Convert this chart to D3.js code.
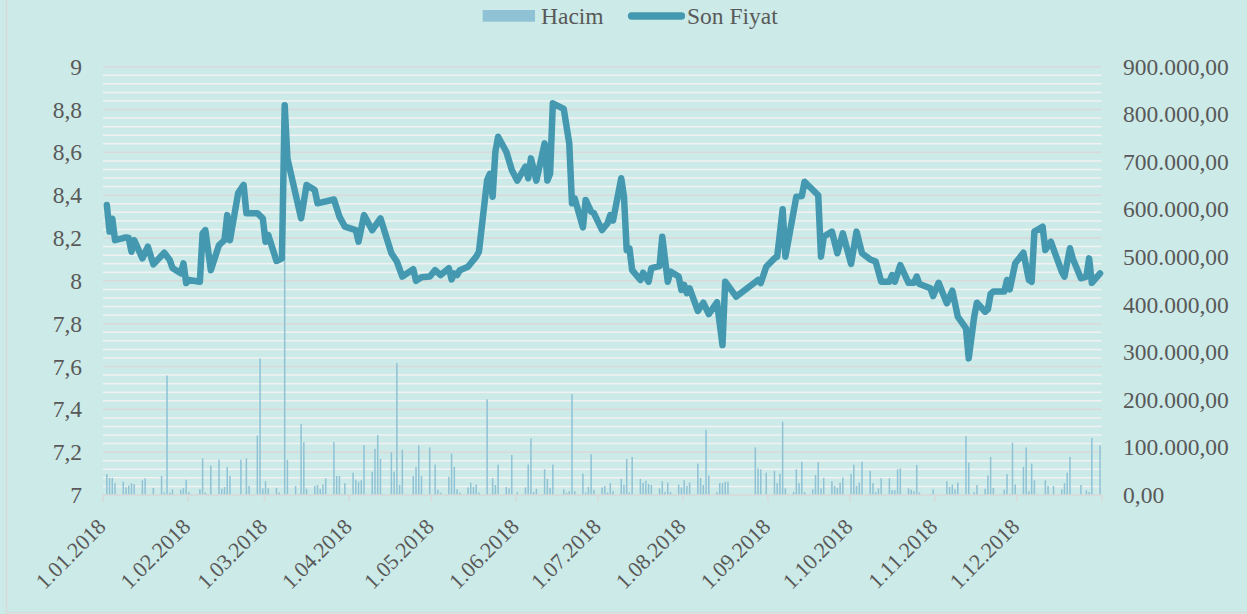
<!DOCTYPE html>
<html>
<head>
<meta charset="utf-8">
<script src="https://cdn.jsdelivr.net/npm/d3@7"></script>
<style>
  html, body { margin: 0; padding: 0; background: #cceae7; }
  svg { display: block; }
  text { font-family: 'Liberation Serif', 'Times New Roman', 'DejaVu Serif', serif; }
</style>
</head>
<body>
<div id="chart"></div>
<script>
// Son Fiyat: days counted from 1.01.2018, closing prices
const priceDays = [1, 2, 3, 4, 7, 8, 9, 10, 11, 14, 16, 18, 22, 24, 25, 28, 29, 30, 31, 35, 36, 37, 39, 42, 44, 45, 46, 49, 51, 52, 56, 58, 59, 60, 63, 65, 66, 67, 72, 74, 77, 78, 84, 86, 88, 92, 93, 95, 98, 101, 105, 107, 109, 113, 114, 116, 119, 121, 123, 126, 127, 128, 129, 130, 133, 136, 137, 140, 141, 142, 143, 144, 147, 149, 151, 154, 155, 156, 158, 161, 162, 163, 164, 168, 170, 171, 172, 175, 176, 178, 179, 182, 184, 185, 186, 189, 190, 191, 192, 193, 196, 197, 199, 200, 203, 204, 206, 207, 210, 211, 212, 213, 214, 217, 219, 221, 224, 226, 227, 231, 239, 240, 242, 245, 246, 248, 249, 253, 255, 256, 261, 262, 263, 266, 268, 270, 273, 275, 277, 280, 282, 284, 287, 288, 289, 291, 294, 296, 297, 298, 302, 303, 305, 308, 310, 311, 312, 315, 316, 318, 319, 322, 323, 324, 325, 329, 330, 331, 333, 336, 338, 339, 340, 343, 344, 346, 350, 351, 353, 354, 357, 359, 360, 361, 364];
const priceValues = [8.354, 8.23, 8.29, 8.19, 8.20, 8.203, 8.20, 8.136, 8.19, 8.105, 8.16, 8.077, 8.131, 8.097, 8.06, 8.035, 8.082, 7.99, 8.004, 7.996, 8.222, 8.237, 8.05, 8.167, 8.19, 8.307, 8.19, 8.41, 8.448, 8.316, 8.316, 8.292, 8.183, 8.214, 8.093, 8.105, 8.82, 8.572, 8.292, 8.448, 8.424, 8.362, 8.38, 8.30, 8.253, 8.237, 8.183, 8.307, 8.237, 8.292, 8.129, 8.09, 8.02, 8.054, 8.0, 8.017, 8.02, 8.05, 8.027, 8.059, 8.007, 8.035, 8.027, 8.05, 8.066, 8.113, 8.136, 8.471, 8.50, 8.393, 8.603, 8.673, 8.603, 8.518, 8.468, 8.533, 8.479, 8.572, 8.468, 8.642, 8.468, 8.50, 8.829, 8.803, 8.642, 8.362, 8.385, 8.25, 8.378, 8.323, 8.316, 8.237, 8.269, 8.307, 8.281, 8.479, 8.393, 8.144, 8.152, 8.05, 8.004, 8.038, 7.996, 8.059, 8.069, 8.206, 7.996, 8.043, 8.02, 7.957, 7.981, 7.942, 7.965, 7.86, 7.898, 7.845, 7.90, 7.70, 7.996, 7.926, 8.004, 7.99, 8.066, 8.105, 8.113, 8.334, 8.113, 8.393, 8.396, 8.463, 8.40, 8.113, 8.206, 8.23, 8.129, 8.222, 8.079, 8.23, 8.129, 8.10, 8.09, 7.996, 7.996, 8.027, 7.996, 8.074, 7.991, 7.991, 8.02, 7.985, 7.965, 7.929, 7.991, 7.895, 7.954, 7.895, 7.833, 7.778, 7.638, 7.833, 7.898, 7.856, 7.867, 7.939, 7.95, 7.95, 8.004, 7.96, 8.082, 8.131, 8.004, 7.996, 8.23, 8.253, 8.144, 8.183, 8.043, 8.02, 8.152, 8.105, 8.012, 8.02, 8.105, 7.991, 8.035];

// Hacim: days counted from 1.01.2018, daily volume
const volumeDays = [1, 2, 3, 4, 7, 8, 9, 10, 11, 14, 15, 18, 21, 22, 23, 24, 25, 28, 29, 30, 31, 32, 35, 36, 37, 38, 39, 42, 43, 44, 45, 46, 50, 52, 53, 56, 57, 58, 59, 60, 63, 64, 66, 67, 70, 71, 72, 73, 74, 77, 78, 79, 80, 81, 84, 85, 86, 87, 88, 91, 92, 93, 94, 95, 98, 99, 100, 101, 102, 105, 106, 107, 108, 109, 113, 114, 115, 116, 119, 121, 122, 123, 126, 127, 128, 129, 130, 133, 134, 135, 136, 137, 140, 141, 142, 143, 144, 147, 148, 149, 151, 154, 155, 156, 157, 158, 161, 162, 163, 164, 168, 169, 170, 171, 172, 175, 176, 177, 178, 179, 182, 183, 184, 185, 186, 189, 190, 191, 192, 193, 196, 197, 198, 199, 200, 203, 204, 205, 206, 207, 210, 211, 212, 213, 214, 217, 218, 219, 220, 221, 224, 225, 226, 227, 228, 238, 239, 240, 242, 245, 246, 247, 248, 249, 252, 253, 254, 255, 256, 259, 260, 261, 262, 263, 266, 267, 268, 269, 270, 273, 274, 275, 276, 277, 280, 281, 282, 283, 284, 287, 288, 289, 290, 291, 294, 295, 296, 297, 298, 302, 303, 308, 309, 310, 311, 312, 315, 316, 318, 319, 322, 323, 324, 325, 329, 330, 331, 332, 333, 336, 337, 338, 339, 340, 344, 345, 347, 350, 351, 352, 353, 357, 359, 360, 361, 364];
const volumeValues = [44000, 36000, 36000, 25000, 28000, 16000, 20000, 25000, 23000, 31000, 35000, 15000, 40000, 5000, 251000, 5000, 12000, 11000, 15000, 32000, 6000, 2000, 12000, 77000, 5000, 2000, 62000, 74000, 13000, 17000, 59000, 40000, 74000, 77000, 19000, 125000, 287000, 14000, 29000, 14000, 15000, 5000, 500000, 74000, 19000, 2000, 149000, 111000, 13000, 19000, 21000, 13000, 22000, 35000, 111000, 40000, 40000, 2000, 25000, 47000, 32000, 28000, 31000, 105000, 49000, 97000, 126000, 76000, 2000, 90000, 49000, 277000, 21000, 95000, 40000, 59000, 104000, 40000, 100000, 64000, 11000, 5000, 38000, 87000, 59000, 12000, 5000, 16000, 26000, 17000, 22000, 5000, 201000, 2000, 35000, 21000, 64000, 17000, 14000, 84000, 6000, 16000, 64000, 119000, 6000, 13000, 54000, 34000, 15000, 64000, 12000, 5000, 8000, 212000, 8000, 45000, 5000, 17000, 86000, 11000, 16000, 19000, 5000, 25000, 8000, 34000, 21000, 76000, 5000, 80000, 34000, 26000, 30000, 23000, 21000, 14000, 29000, 6000, 26000, 6000, 22000, 16000, 31000, 19000, 26000, 66000, 36000, 21000, 137000, 41000, 6000, 25000, 25000, 28000, 28000, 100000, 56000, 54000, 47000, 51000, 25000, 45000, 154000, 14000, 6000, 54000, 25000, 70000, 6000, 12000, 42000, 69000, 14000, 36000, 29000, 19000, 15000, 26000, 37000, 44000, 64000, 19000, 26000, 70000, 51000, 25000, 6000, 14000, 35000, 35000, 10000, 10000, 54000, 56000, 14000, 11000, 8000, 63000, 5000, 2000, 12000, 29000, 17000, 22000, 12000, 26000, 124000, 68000, 6000, 21000, 13000, 41000, 80000, 15000, 11000, 44000, 2000, 110000, 22000, 59000, 100000, 8000, 66000, 31000, 31000, 19000, 19000, 12000, 25000, 47000, 80000, 21000, 10000, 6000, 120000, 104000];

const priceTicks = [7, 7.2, 7.4, 7.6, 7.8, 8, 8.2, 8.4, 8.6, 8.8, 9];
const volumeTicks = [0, 100000, 200000, 300000, 400000, 500000, 600000, 700000, 800000, 900000];
const legendLabels = ["Hacim", "Son Fiyat"];

const W = 1247, H = 614;
const plotLeft = 103, plotRight = 1101.7, plotTop = 66.7, plotBottom = 495;
const textColor = "#595959", lineColor = "#4499b1", barColor = "#8fc2d5";
const serif = "'Liberation Serif', 'Times New Roman', 'DejaVu Serif', serif";

const trLocale = d3.formatLocale({decimal: ",", thousands: ".", grouping: [3], currency: ["", ""]});
const fmtPrice = d => trLocale.format("~g")(+d.toFixed(1));
const fmtVolume = trLocale.format(",.2f");
const fmtDate = d3.utcFormat("%-d.%m.%Y");

const start = new Date(Date.UTC(2018, 0, 1));
const end = new Date(Date.UTC(2019, 0, 1));
const toDate = d => d3.utcDay.offset(start, d);

const x = d3.scaleUtc().domain([start, end]).range([plotLeft, plotRight]);
const y = d3.scaleLinear().domain([7, 9]).range([plotBottom, plotTop]);
const y2 = d3.scaleLinear().domain([0, 900000]).range([plotBottom, plotTop]);
const dayShift = (x(toDate(1)) - x(start)) * 0.4;

const svg = d3.select("#chart").append("svg")
  .attr("width", W).attr("height", H)
  .attr("font-family", serif);

svg.append("rect")
  .attr("x", 6.5).attr("y", -10).attr("width", W + 20).attr("height", 622.5)
  .attr("fill", "#cceae7").attr("stroke", "#d9d9d9").attr("stroke-width", 1.5);

// gridlines: minor every 0.04, major every 0.2
const minor = d3.range(0, 51).map(i => 7 + i * 0.04);
svg.append("g").selectAll("line")
  .data(minor.filter((d, i) => i % 5 !== 0))
  .enter().append("line")
  .attr("x1", plotLeft).attr("x2", plotRight)
  .attr("y1", d => y(d)).attr("y2", d => y(d))
  .attr("stroke", "#f2f2f2").attr("stroke-width", 1.5);
svg.append("g").selectAll("line")
  .data(priceTicks.slice(1))
  .enter().append("line")
  .attr("x1", plotLeft).attr("x2", plotRight)
  .attr("y1", d => y(d)).attr("y2", d => y(d))
  .attr("stroke", "#d9d9d9").attr("stroke-width", 1.5);

// volume bars
const volumes = volumeDays.map((d, i) => ({date: toDate(d), v: volumeValues[i]}));
svg.append("g").selectAll("rect")
  .data(volumes)
  .enter().append("rect")
  .attr("x", d => x(d.date) + dayShift - 0.75)
  .attr("width", 1.5)
  .attr("y", d => y2(d.v))
  .attr("height", d => plotBottom - y2(d.v))
  .attr("fill", barColor);

// x axis
const months = d3.utcMonth.range(start, d3.utcDay.offset(end, 1));
svg.append("line")
  .attr("x1", plotLeft).attr("x2", plotRight + 0.75)
  .attr("y1", plotBottom).attr("y2", plotBottom)
  .attr("stroke", "#d9d9d9").attr("stroke-width", 1.5);
svg.append("g").selectAll("line")
  .data(months)
  .enter().append("line")
  .attr("x1", d => x(d)).attr("x2", d => x(d))
  .attr("y1", plotBottom).attr("y2", plotBottom + 7)
  .attr("stroke", "#d9d9d9").attr("stroke-width", 1.5);
svg.append("g").selectAll("text")
  .data(months.slice(0, 12))
  .enter().append("text")
  .attr("transform", d => `translate(${x(d) + 4},${plotBottom + 33}) rotate(-45)`)
  .attr("text-anchor", "end")
  .attr("font-family", serif)
  .attr("font-size", 22)
  .attr("fill", textColor)
  .text(fmtDate);

// left axis
svg.append("g").selectAll("text")
  .data(priceTicks)
  .enter().append("text")
  .attr("x", 82).attr("y", d => y(d))
  .attr("dy", "0.34em")
  .attr("text-anchor", "end")
  .attr("font-family", serif)
  .attr("font-size", 23.5)
  .attr("fill", textColor)
  .text(fmtPrice);

// right axis
svg.append("g").selectAll("text")
  .data(volumeTicks)
  .enter().append("text")
  .attr("x", 1123).attr("y", d => y2(d))
  .attr("dy", "0.34em")
  .attr("font-family", serif)
  .attr("font-size", 23.5)
  .attr("fill", textColor)
  .text(fmtVolume);

// price line
const prices = priceDays.map((d, i) => ({date: toDate(d), v: priceValues[i]}));
const line = d3.line().x(d => x(d.date) + dayShift).y(d => y(d.v));
svg.append("path")
  .datum(prices)
  .attr("d", line)
  .attr("fill", "none")
  .attr("stroke", lineColor)
  .attr("stroke-width", 6.5)
  .attr("stroke-linejoin", "round")
  .attr("stroke-linecap", "round");

// legend
const legend = svg.append("g");
legend.append("rect")
  .attr("x", 482.7).attr("y", 10).attr("width", 52.3).attr("height", 11.7)
  .attr("fill", barColor);
legend.append("text")
  .attr("x", 541).attr("y", 24)
  .attr("font-family", serif)
  .attr("font-size", 23.5).attr("fill", textColor)
  .text(legendLabels[0]);
legend.append("line")
  .attr("x1", 631.5).attr("x2", 681.5).attr("y1", 16).attr("y2", 16)
  .attr("stroke", lineColor).attr("stroke-width", 7.3)
  .attr("stroke-linecap", "round");
legend.append("text")
  .attr("x", 687).attr("y", 24)
  .attr("font-family", serif)
  .attr("font-size", 23.5).attr("fill", textColor)
  .text(legendLabels[1]);
</script>
</body>
</html>
